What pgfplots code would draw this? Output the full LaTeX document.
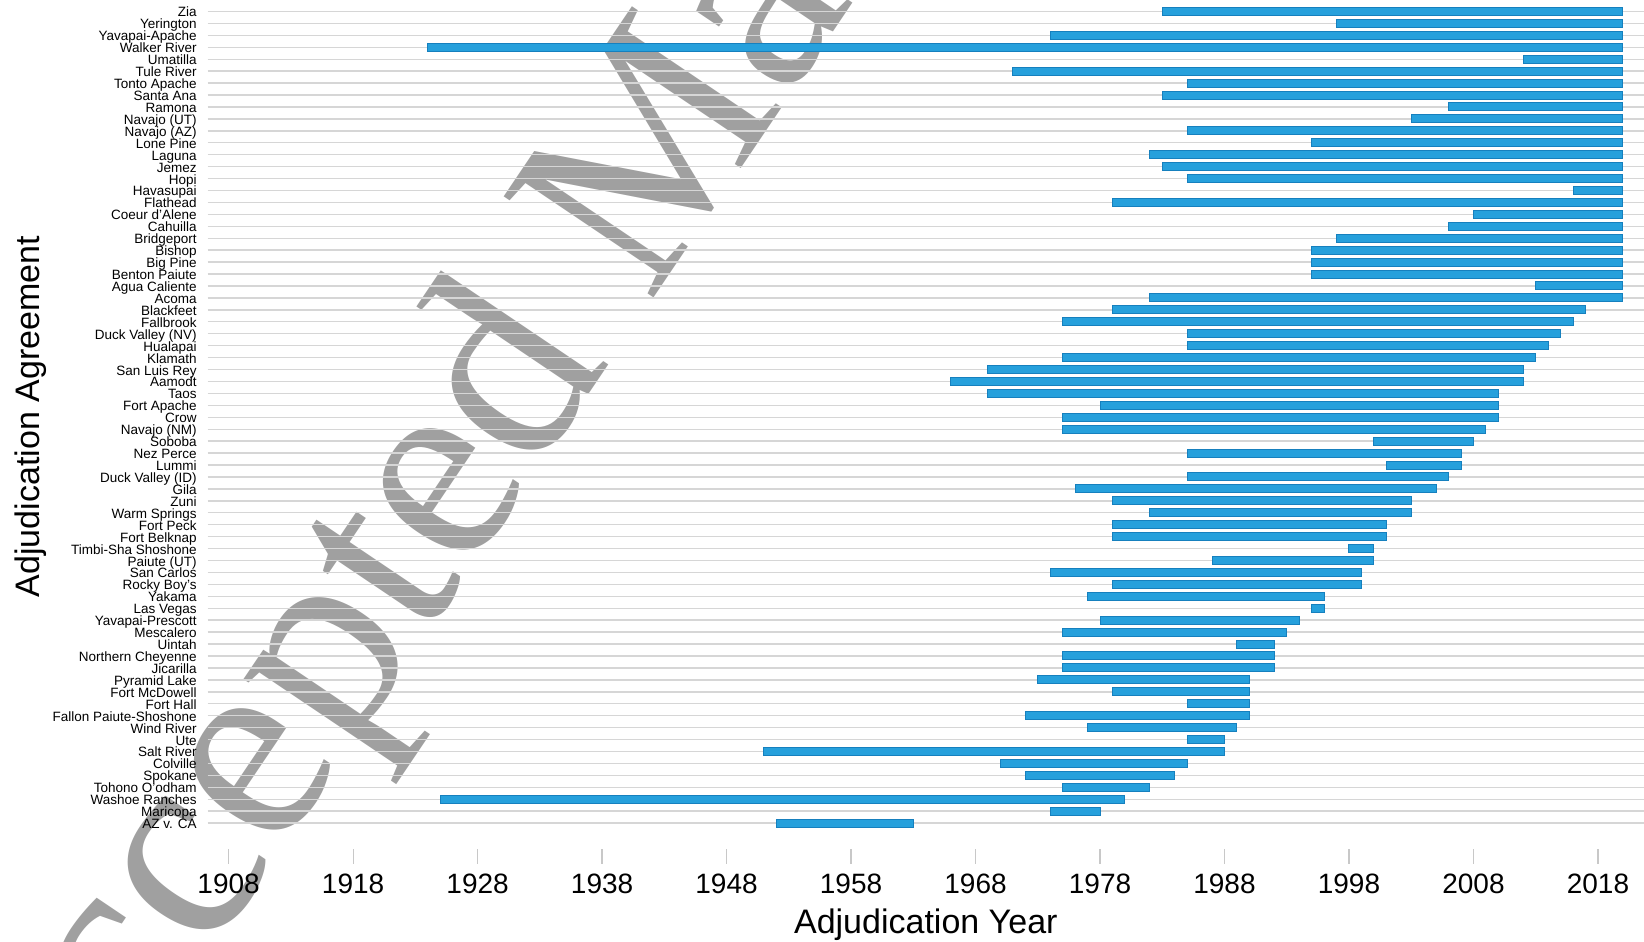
\documentclass[border=0pt]{standalone}
\usepackage{fontspec}
\setmainfont{Liberation Sans}
\newfontfamily\wmfont{Liberation Serif}
\usepackage{pgfplots}
\usepackage{pgfplotstable}
\pgfplotsset{compat=1.18}
\definecolor{barfill}{RGB}{38,160,220}
\definecolor{barline}{RGB}{22,128,190}
\definecolor{gridc}{RGB}{214,214,214}
\definecolor{tickc}{RGB}{200,200,200}
\definecolor{wm}{RGB}{160,160,160}

\pgfplotstableread{
y start end
0 1952 1963
1 1974 1978
2 1925 1980
3 1975 1982
4 1972 1984
5 1970 1985
6 1951 1988
7 1985 1988
8 1977 1989
9 1972 1990
10 1985 1990
11 1979 1990
12 1973 1990
13 1975 1992
14 1975 1992
15 1989 1992
16 1975 1993
17 1978 1994
18 1995 1996
19 1977 1996
20 1979 1999
21 1974 1999
22 1987 2000
23 1998 2000
24 1979 2001
25 1979 2001
26 1982 2003
27 1979 2003
28 1976 2005
29 1985 2006
30 2001 2007
31 1985 2007
32 2000 2008
33 1975 2009
34 1975 2010
35 1978 2010
36 1969 2010
37 1966 2012
38 1969 2012
39 1975 2013
40 1985 2014
41 1985 2015
42 1975 2016
43 1979 2017
44 1982 2020
45 2013 2020
46 1995 2020
47 1995 2020
48 1995 2020
49 1997 2020
50 2006 2020
51 2008 2020
52 1979 2020
53 2016 2020
54 1985 2020
55 1983 2020
56 1982 2020
57 1995 2020
58 1985 2020
59 2003 2020
60 2006 2020
61 1983 2020
62 1985 2020
63 1971 2020
64 2012 2020
65 1924 2020
66 1974 2020
67 1997 2020
68 1983 2020
}\agreements

\begin{document}
\begin{tikzpicture}
\useasboundingbox (0,0) rectangle (822pt,471pt);
\node[rotate=56, anchor=base west, text=wm, font=\wmfont\fontsize{138}{138}\selectfont, inner sep=0pt] at (14pt,-142pt) {Accepted Manuscript};
\begin{axis}[
  at={(103.8pt,46.5pt)}, anchor=south west,
  scale only axis, width=718.2pt, height=424.5pt,
  xmin=1906.31, xmax=2021.7,
  ymin=-2.17, ymax=68.96,
  xbar stacked, bar width=4pt,
  axis x line*=bottom, axis y line*=left,
  axis line style={draw=none},
  tick align=outside, major tick length=7.5pt,
  xtick={1908,1918,...,2018},
  xtick style={draw=tickc, line width=0.6pt},
  ytick={0,...,68},
  ytick style={draw=none},
  ymajorgrids, grid style={draw=gridc, line width=0.7pt},
  /pgf/number format/1000 sep={},
  /pgf/number format/assume math mode=true,
  xticklabel style={font=\fontsize{14}{14}\selectfont, anchor=base, yshift=-14.5pt},
  yticklabel style={font=\fontsize{6.75}{6.75}\selectfont, anchor=base east, inner sep=0pt, yshift=-2.75pt, xshift=2.2pt},
  yticklabels={AZ v. CA, Maricopa, Washoe Ranches, Tohono O'odham, Spokane, Colville, Salt River, Ute, Wind River, Fallon Paiute-Shoshone, Fort Hall, Fort McDowell, Pyramid Lake, Jicarilla, Northern Cheyenne, Uintah, Mescalero, Yavapai-Prescott, Las Vegas, Yakama, Rocky Boy's, San Carlos, Paiute (UT), Timbi-Sha Shoshone, Fort Belknap, Fort Peck, Warm Springs, Zuni, Gila, Duck Valley (ID), Lummi, Nez Perce, Soboba, Navajo (NM), Crow, Fort Apache, Taos, Aamodt, San Luis Rey, Klamath, Hualapai, Duck Valley (NV), Fallbrook, Blackfeet, Acoma, Agua Caliente, Benton Paiute, Big Pine, Bishop, Bridgeport, Cahuilla, Coeur d'Alene, Flathead, Havasupai, Hopi, Jemez, Laguna, Lone Pine, Navajo (AZ), Navajo (UT), Ramona, Santa Ana, Tonto Apache, Tule River, Umatilla, Walker River, Yavapai-Apache, Yerington, Zia},
  xlabel={Adjudication Year},
  xlabel style={font=\fontsize{17}{17}\selectfont, at={(axis description cs:0.5,0)}, anchor=base, yshift=-42pt},
  ylabel={Adjudication Agreement},
  ylabel style={font=\fontsize{17}{17}\selectfont, at={(axis description cs:-0.1167,0.5092)}, anchor=base},
]
\addplot[draw=none, fill=none, mark=none] table[x=start, y=y]{\agreements};
\addplot[fill=barfill, draw=barline, line width=0.5pt, mark=none] table[x expr=\thisrow{end}-\thisrow{start}, y=y]{\agreements};
\end{axis}
\end{tikzpicture}
\end{document}
